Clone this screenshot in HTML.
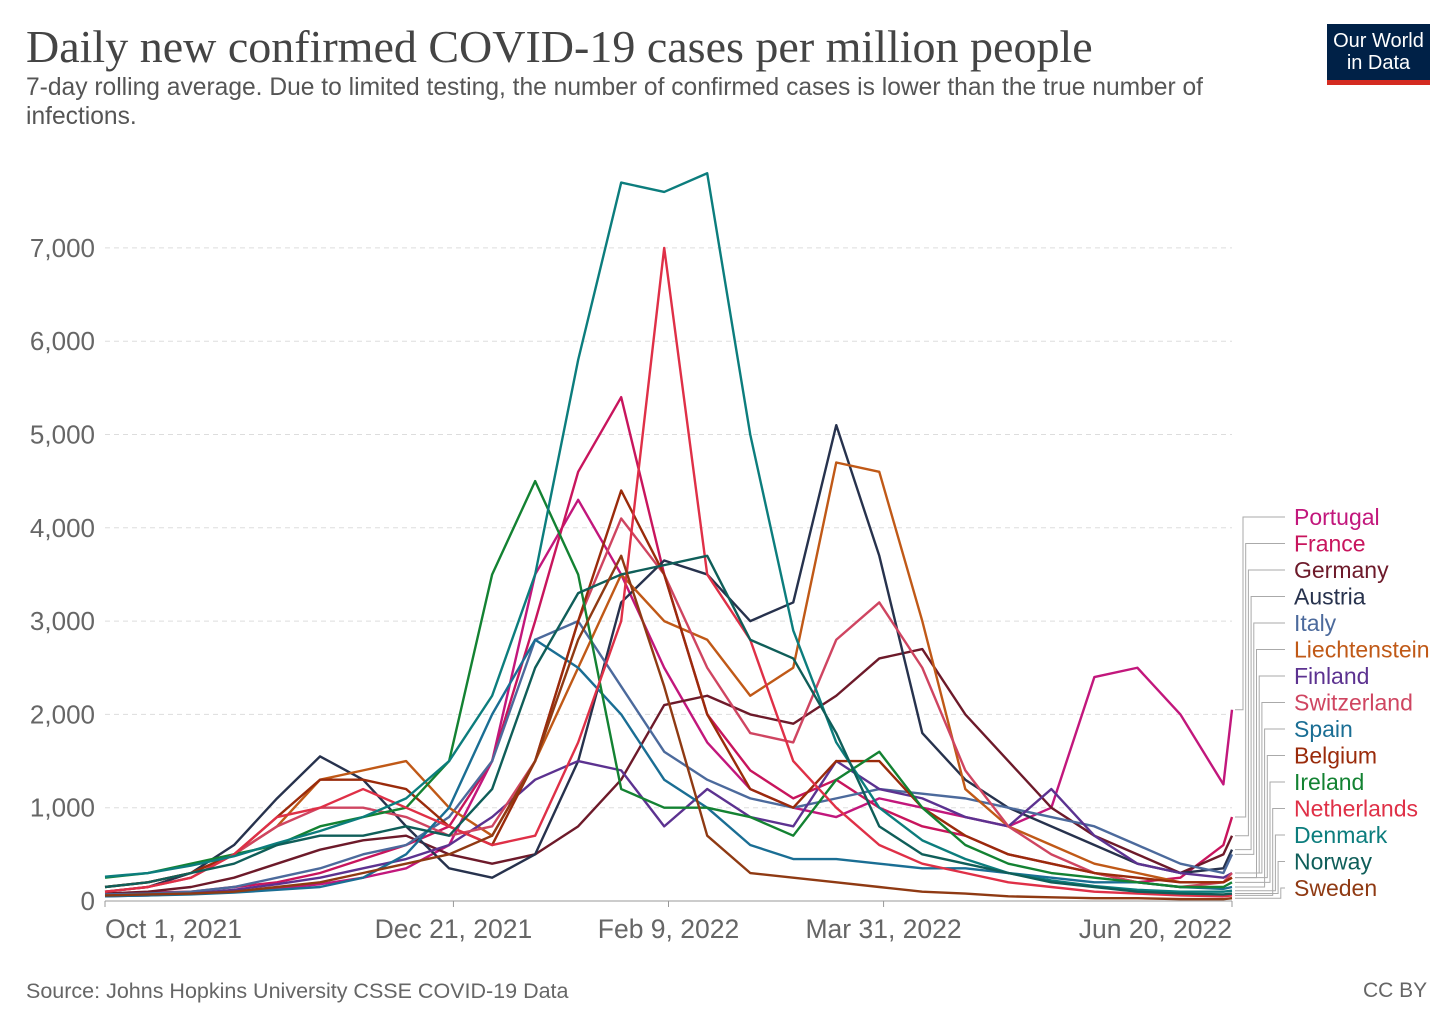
<!DOCTYPE html>
<html><head><meta charset="utf-8">
<style>
body{margin:0;background:#fff;width:1456px;height:1028px;overflow:hidden;font-family:"Liberation Sans",sans-serif}
.t{position:absolute}
</style></head><body>
<div class="t" style="left:26px;top:20px;font-family:'Liberation Serif',serif;font-size:46px;color:#444;white-space:nowrap">Daily new confirmed COVID-19 cases per million people</div>
<div class="t" style="left:26px;top:73px;width:1200px;font-size:24.6px;line-height:29px;color:#555">7-day rolling average. Due to limited testing, the number of confirmed cases is lower than the true number of infections.</div>
<div class="t" style="left:1327px;top:24px;width:103px;height:61px;background:#002147;color:#fff;font-size:20px;line-height:22px;text-align:center;box-sizing:border-box;padding-top:6px;border-bottom:5px solid #d42b21">Our World<br>in Data</div>
<div class="t" style="left:26px;top:979px;font-size:21.5px;color:#666">Source: Johns Hopkins University CSSE COVID-19 Data</div>
<div class="t" style="left:1363px;top:979px;font-size:21px;color:#666">CC BY</div>
<svg id="c" width="1456" height="1028" style="position:absolute;left:0;top:0"></svg>
<script>
const days=[0,10,20,30,40,50,60,70,80,90,100,110,120,130,140,150,160,170,180,190,200,210,220,230,240,250,260,262];
const countries=["Portugal","France","Germany","Austria","Italy","Liechtenstein","Finland","Switzerland","Spain","Belgium","Ireland","Netherlands","Denmark","Norway","Sweden"];
const colors=["#c2177c","#c8155d","#6d1a2a","#27324d","#4c6a9c","#c05917","#5c3290","#cf4561","#1a6e94","#9a2b0b","#138232","#df3047","#0c7d7d","#0f5e59","#8f3a13"];
const portugal=[60,70,80,100,130,180,250,350,600,1500,3500,4300,3500,2500,1700,1200,1000,900,1100,1000,900,800,1000,2400,2500,2000,1250,2050];
const france=[80,90,100,150,200,300,450,600,800,1500,3000,4600,5400,3500,2000,1400,1100,1300,1000,800,700,500,400,300,200,250,600,900];
const germany=[80,100,150,250,400,550,650,700,500,400,500,800,1300,2100,2200,2000,1900,2200,2600,2700,2000,1500,1000,700,500,300,500,700];
const austria=[100,150,300,600,1100,1550,1300,800,350,250,500,1500,3200,3650,3500,3000,3200,5100,3700,1800,1300,1000,800,600,400,300,350,550];
const italy=[70,80,100,150,250,350,500,600,900,1500,2800,3000,2300,1600,1300,1100,1000,1100,1200,1150,1100,1000,900,800,600,400,300,500];
const liechtenstein=[150,200,300,500,800,1300,1400,1500,1000,700,1500,2500,3500,3000,2800,2200,2500,4700,4600,3000,1200,800,600,400,300,200,200,250];
const finland=[50,60,80,120,180,250,350,450,600,900,1300,1500,1400,800,1200,900,800,1500,1200,1100,900,800,1200,700,400,300,250,300];
const switzerland=[100,150,250,500,800,1000,1000,900,700,800,1500,3000,4100,3500,2500,1800,1700,2800,3200,2500,1400,800,500,300,200,150,200,300];
const spain=[50,60,70,90,120,150,250,500,1000,2000,2800,2500,2000,1300,1000,600,450,450,400,350,350,300,250,200,200,150,130,150];
const belgium=[150,200,300,500,900,1300,1300,1200,800,600,1500,3000,4400,3500,2000,1200,1000,1500,1500,1000,700,500,400,300,250,200,200,250];
const ireland=[250,300,400,500,600,800,900,1000,1500,3500,4500,3500,1200,1000,1000,900,700,1300,1600,1000,600,400,300,250,200,150,150,200];
const netherlands=[100,150,250,500,900,1000,1200,1000,800,600,700,1700,3000,7000,3500,2800,1500,1000,600,400,300,200,150,100,80,60,50,60];
const denmark=[260,300,380,480,620,750,900,1100,1500,2200,3500,5800,7700,7600,7800,5000,2900,1700,1000,650,450,300,220,160,120,100,100,110];
const norway=[150,200,300,400,600,700,700,800,700,1200,2500,3300,3500,3600,3700,2800,2600,1800,800,500,400,300,200,150,100,80,70,80];
const sweden=[60,70,80,100,150,200,300,400,500,700,1500,2800,3700,2300,700,300,250,200,150,100,80,50,40,30,30,20,20,30];
const series=[portugal,france,germany,austria,italy,liechtenstein,finland,switzerland,spain,belgium,ireland,netherlands,denmark,norway,sweden];
const yTicks=[0,1000,2000,3000,4000,5000,6000,7000];
const xTickDays=[0,81,131,181,262];
const xTickLabels=["Oct 1, 2021","Dec 21, 2021","Feb 9, 2022","Mar 31, 2022","Jun 20, 2022"];

const svg=document.getElementById('c');const NS="http://www.w3.org/2000/svg";
const X0=105,X1=1232,Y0=901,YK=0.0933;
const x=d=>X0+d*(X1-X0)/262;
const y=v=>Y0-v*YK;
function mk(t,a){const e=document.createElementNS(NS,t);for(const k in a)e.setAttribute(k,a[k]);svg.appendChild(e);return e;}
yTicks.forEach(v=>{
  if(v>0){const g=mk('line',{x1:X0,x2:X1,y1:y(v),y2:y(v),stroke:'#ddd','stroke-dasharray':'5,4'});
  
  }
  const t=mk('text',{x:95,y:y(v)+9,'text-anchor':'end','font-size':26,fill:'#666','font-family':'Liberation Sans'});
  t.textContent=v.toLocaleString('en-US');
  
  
});
const ax=mk('line',{x1:X0,x2:X1,y1:Y0,y2:Y0,stroke:'#999'});


xTickDays.forEach((d,i)=>{
  const tk=mk('line',{x1:x(d),x2:x(d),y1:Y0,y2:Y0+6,stroke:'#999'});
  
  
  const anc=i==0?'start':(i==xTickDays.length-1?'end':'middle');
  const t=mk('text',{x:x(d),y:938,'text-anchor':anc,'font-size':26.5,fill:'#666','font-family':'Liberation Sans'});
  t.textContent=xTickLabels[i];
  
  
});
series.forEach((s,i)=>{
  const p=mk('polyline',{points:s.map((v,j)=>x(days[j])+','+y(v)).join(' '),fill:'none',stroke:colors[i],'stroke-width':2.4,'stroke-linejoin':'round'});
  
  
});
countries.forEach((c,i)=>{
  const ly=517+i*26.5;const ey=y(series[i][series[i].length-1]);const vx=1243+i*2.7;
  const l=mk('polyline',{points:`1285,${ly} ${vx},${ly} ${vx},${ey} 1235,${ey}`,fill:'none',stroke:'#aaa','stroke-width':1});
  
  
  const t=mk('text',{x:1294,y:ly+8,'font-size':23,fill:colors[i],'font-family':'Liberation Sans'});
  t.textContent=c;
  
  
});
</script>
</body></html>
